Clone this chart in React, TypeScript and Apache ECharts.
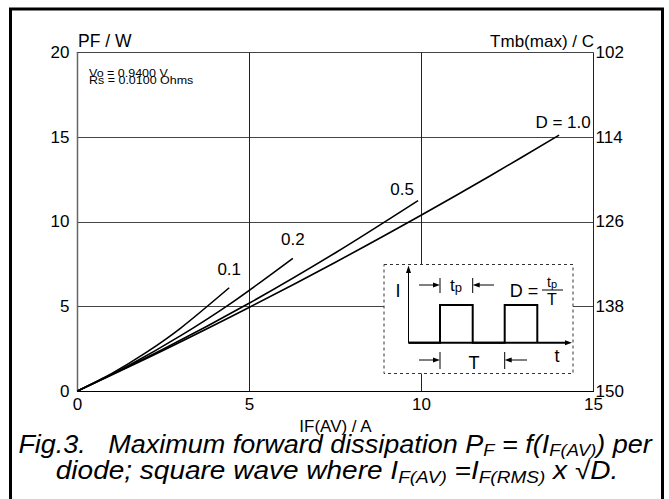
import React, { useEffect, useRef } from "react";
import * as echarts from "echarts";

// Data (IF(AV) in A, PF in W)
const dutyNames = ["D = 1.0", "0.5", "0.2", "0.1"];
const seriesD10: number[][] = [[0, 0], [2.5, 2.41], [5, 4.95], [7.5, 7.61], [10, 10.4], [12, 12.72], [14, 15.12]];
const seriesD05: number[][] = [[0, 0], [2.5, 2.48], [5, 5.2], [7.5, 8.17], [9.9, 11.25]];
const seriesD02: number[][] = [[0, 0], [1.5, 1.52], [3, 3.27], [4.5, 5.24], [6.26, 7.84]];
const seriesD01: number[][] = [[0, 0], [1, 1.04], [2, 2.28], [3, 3.72], [4.41, 6.1]];
const leftTickLabels = ["0", "5", "10", "15", "20"];
const rightTickLabels = ["150", "138", "126", "114", "102"];
const xTickLabels = ["0", "5", "10", "15"];

const FONT = "'Liberation Sans', Arial, sans-serif";

export default function App() {
  const ref = useRef<HTMLDivElement>(null);
  useEffect(() => {
    document.body.style.margin = "0";
    if (!ref.current) return;
    const chart = echarts.init(ref.current, null, { renderer: "svg" });
    const lineStyle = { color: "#000", width: 1.6 };
    const mkSeries = (name: string, data: number[][], offset: number[]) => ({
      type: "line",
      name,
      data,
      symbol: "none",
      smooth: 0.3,
      lineStyle,
      z: 3,
      endLabel: {
        show: true,
        formatter: name,
        color: "#000",
        fontSize: 17,
        fontFamily: FONT,
        align: "center",
        verticalAlign: "middle",
        distance: 0,
        offset,
      },
    });
    const sub = { fontSize: 17, fontStyle: "italic", fontFamily: FONT, color: "#000", verticalAlign: "bottom", lineHeight: 16 };
    const main = { fontSize: 25, fontStyle: "italic", fontFamily: FONT, color: "#000", lineHeight: 29 };
    const arrowR = (x: number, y: number) => ({ type: "polygon", shape: { points: [[x, y], [x - 7, y - 2.5], [x - 7, y + 2.5]] }, style: { fill: "#000" }, z: 20 });
    const arrowL = (x: number, y: number) => ({ type: "polygon", shape: { points: [[x, y], [x + 7, y - 2.5], [x + 7, y + 2.5]] }, style: { fill: "#000" }, z: 20 });
    const ln = (x1: number, y1: number, x2: number, y2: number, w = 1) => ({ type: "line", shape: { x1, y1, x2, y2 }, style: { stroke: "#000", lineWidth: w }, z: 20 });
    const txt = (x: number, y: number, text: string, fontSize: number, extra: any = {}) => ({
      type: "text", x, y, z: 20,
      style: { text, fontSize, fontFamily: FONT, fill: "#000", align: "center", verticalAlign: "middle", ...extra },
    });
    chart.setOption({
      animation: false,
      grid: { left: 77.5, top: 52.5, right: 75.5, bottom: 108 },
      xAxis: [
        {
          type: "value", min: 0, max: 15, interval: 5,
          name: "IF(AV) / A", nameLocation: "middle", nameGap: 22,
          nameTextStyle: { fontSize: 17, fontFamily: FONT, color: "#000" },
          axisLine: { show: true, lineStyle: { color: "#666", width: 1.2 } },
          axisTick: { show: false },
          splitLine: { show: true, lineStyle: { color: "#222", width: 1 } },
          axisLabel: { fontSize: 17, fontFamily: FONT, color: "#000", margin: 5, formatter: (v: number) => xTickLabels[Math.round(v / 5)] },
        },
        {
          type: "value", min: 0, max: 15, position: "top",
          axisLine: { show: true, lineStyle: { color: "#000", width: 1.2 } },
          axisTick: { show: false }, axisLabel: { show: false }, splitLine: { show: false },
        },
      ],
      yAxis: [
        {
          type: "value", min: 0, max: 20, interval: 5,
          axisLine: { show: true, lineStyle: { color: "#000", width: 1.2 } },
          axisTick: { show: false },
          splitLine: { show: true, lineStyle: { color: "#444", width: 1 } },
          axisLabel: { fontSize: 17, fontFamily: FONT, color: "#000", margin: 8, formatter: (v: number) => leftTickLabels[Math.round(v / 5)] },
        },
        {
          type: "value", min: 0, max: 20, interval: 5, position: "right",
          axisLine: { show: true, lineStyle: { color: "#666", width: 1.2 } },
          axisTick: { show: false }, splitLine: { show: false },
          axisLabel: { fontSize: 17, fontFamily: FONT, color: "#000", margin: 2, formatter: (v: number) => rightTickLabels[Math.round(v / 5)] },
        },
      ],
      series: [
        mkSeries(dutyNames[0], seriesD10, [4, -13]),
        mkSeries(dutyNames[1], seriesD05, [-16, -11]),
        mkSeries(dutyNames[2], seriesD02, [0, -19]),
        mkSeries(dutyNames[3], seriesD01, [0, -18]),
      ],
      graphic: [
        { type: "rect", shape: { x: 10.5, y: 9, width: 652, height: 530 }, style: { fill: "none", stroke: "#000", lineWidth: 3 }, z: 30 },
        txt(78, 41, "PF / W", 17.5, { align: "left" }),
        txt(594, 41, "Tmb(max) / C", 17, { align: "right" }),
        { type: "text", x: 89, y: 73, z: 20, scaleY: 0.8, style: { text: "Vo = 0.9400 V", fontSize: 12.5, fontFamily: FONT, fill: "#000", verticalAlign: "middle" } },
        { type: "text", x: 89, y: 80.5, z: 20, scaleY: 0.8, style: { text: "Rs = 0.0100 Ohms", fontSize: 12.5, fontFamily: FONT, fill: "#000", verticalAlign: "middle" } },
        // inset
        { type: "rect", shape: { x: 384, y: 264.5, width: 189, height: 109 }, style: { fill: "#fff", stroke: "#333", lineWidth: 1, lineDash: [3, 3] }, z: 15 },
        ln(408.5, 342.7, 408.5, 270),
        { type: "polygon", shape: { points: [[408.5, 265.5], [406, 273], [411, 273]] }, style: { fill: "#000" }, z: 20 },
        ln(408.5, 342.7, 566, 342.7, 2),
        arrowR(572, 342.7),
        { type: "polyline", shape: { points: [[408.5, 342.7], [440, 342.7], [440, 305], [472.7, 305], [472.7, 342.7], [504.7, 342.7], [504.7, 305], [537.3, 305], [537.3, 342.7]] }, style: { stroke: "#000", lineWidth: 2, fill: "none" }, z: 20 },
        txt(398, 291, "I", 18),
        ln(419, 285, 434, 285), arrowR(440, 285), ln(440, 278, 440, 293),
        ln(494, 285, 478, 285), arrowL(472.7, 285), ln(472.7, 278, 472.7, 293),
        { type: "text", x: 456, y: 285, z: 20, style: { text: "{a|t}{b|p}", align: "center", verticalAlign: "middle", rich: { a: { fontSize: 17, fontFamily: FONT, color: "#000" }, b: { fontSize: 13, fontFamily: FONT, color: "#000", verticalAlign: "bottom", lineHeight: 16 } } } },
        txt(524, 291, "D =", 18),
        { type: "text", x: 552, y: 282, z: 20, style: { text: "{a|t}{b|p}", align: "center", verticalAlign: "middle", rich: { a: { fontSize: 14, fontFamily: FONT, color: "#000" }, b: { fontSize: 11, fontFamily: FONT, color: "#000", verticalAlign: "bottom", lineHeight: 13 } } } },
        ln(542, 290, 563, 290),
        txt(552, 299, "T", 16),
        ln(419, 360, 434, 360), arrowR(440, 360), ln(440, 352, 440, 369),
        txt(474, 363, "T", 18),
        ln(527, 360, 511, 360), arrowL(504.7, 360), ln(504.7, 352, 504.7, 369),
        txt(557, 356, "t", 18),
        // caption
        {
          type: "text", x: 335, y: 444, z: 20, scaleX: 1.08,
          style: {
            text: "{i|Fig.3.   Maximum forward dissipation P}{s|F}{i| = f(I}{s|F(AV)}{i|) per}",
            align: "center", verticalAlign: "middle",
            rich: { i: main, s: sub },
          },
        },
        {
          type: "text", x: 337, y: 471, z: 20, scaleX: 1.12,
          style: {
            text: "{i|diode; square wave where I}{s|F(AV)}{i| =I}{s|F(RMS)}{i| x √D.}",
            align: "center", verticalAlign: "middle",
            rich: { i: main, s: sub },
          },
        },
      ],
    });
    return () => chart.dispose();
  }, []);
  return <div ref={ref} style={{ width: 669, height: 499 }} />;
}
